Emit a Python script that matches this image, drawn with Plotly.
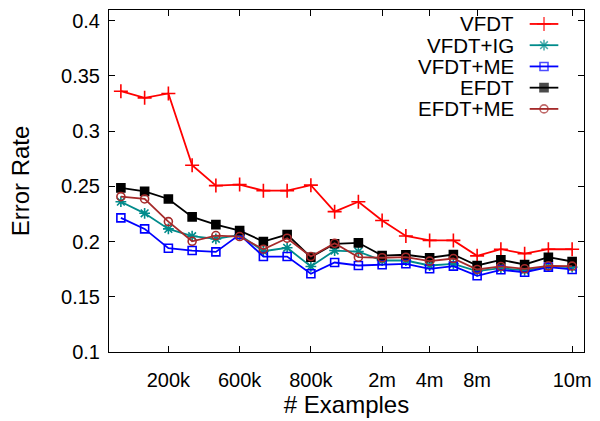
import plotly.graph_objects as go

x_index = list(range(1, 21))
tick_positions = [3, 6, 9, 12, 14, 16, 20]
tick_labels = ["200k", "600k", "800k", "2m", "4m", "8m", "10m"]

vfdt = [0.336, 0.330, 0.334, 0.269, 0.2506, 0.2515, 0.246, 0.246, 0.251, 0.227,
        0.236, 0.219, 0.205, 0.201, 0.201, 0.187, 0.193, 0.189, 0.193, 0.193]
vfdt_ig = [0.236, 0.2255, 0.2114, 0.2048, 0.2024, 0.206, 0.1912, 0.1943, 0.1774, 0.1918,
           0.1909, 0.1828, 0.1828, 0.1783, 0.1798, 0.1732, 0.1759, 0.1738, 0.1774, 0.1768]
vfdt_me = [0.2214, 0.2114, 0.1939, 0.1918, 0.1906, 0.2063, 0.1864, 0.1864, 0.1708, 0.181,
           0.1783, 0.1789, 0.1798, 0.1753, 0.1777, 0.169, 0.1744, 0.1722, 0.1768, 0.1747]
efdt = [0.2485, 0.2454, 0.2385, 0.2223, 0.2153, 0.2099, 0.2000, 0.2063, 0.1858, 0.1979,
        0.1988, 0.1873, 0.188, 0.1853, 0.1882, 0.1783, 0.1834, 0.1792, 0.1858, 0.1819]
efdt_me = [0.2406, 0.2385, 0.218, 0.2002, 0.2054, 0.2045, 0.193, 0.203, 0.1864, 0.1984,
           0.1858, 0.1853, 0.1858, 0.1822, 0.1846, 0.1747, 0.1774, 0.1753, 0.178, 0.1777]

series = [
    ("VFDT", vfdt, "#ff0000", "cross-thin-open", 10),
    ("VFDT+IG", vfdt_ig, "#008b8b", "asterisk-open", 9),
    ("VFDT+ME", vfdt_me, "#0000ff", "square-open", 8),
    ("EFDT", efdt, "#000000", "square", 8),
    ("EFDT+ME", efdt_me, "#a52a2a", "circle-open", 8),
]

FONT = "Liberation Sans, Arial, sans-serif"
W, H = 600, 421
L, R, T, B = 109, 10, 9, 69

fig = go.Figure()
for name, ys, color, sym, size in series:
    fig.add_trace(go.Scatter(
        x=x_index, y=ys, mode="lines+markers", name=name,
        line=dict(color=color, width=1.8),
        marker=dict(symbol=sym, size=size, color=color,
                    line=dict(color=color, width=1.6)),
        showlegend=False, cliponaxis=False,
    ))

# manual gnuplot-style key (text right, sample on the right)
key_text_right = 521
key_x0, key_x1 = 535, 564
key_y0, key_dy = 23, 21.3
annotations = []
for i, (name, ys, color, sym, size) in enumerate(series):
    yy = key_y0 + i * key_dy
    fig.add_trace(go.Scatter(
        x=[key_x0, (key_x0 + key_x1) / 2, key_x1], y=[yy, yy, yy],
        mode="lines+markers", xaxis="x2", yaxis="y2",
        line=dict(color=color, width=1.8),
        marker=dict(symbol=sym, size=[0, size, 0], color=color,
                    line=dict(color=color, width=1.6)),
        showlegend=False, hoverinfo="skip",
    ))
    annotations.append(dict(
        x=key_text_right, y=yy, xref="x2", yref="y2", text=name,
        showarrow=False, xanchor="right", yanchor="middle",
        font=dict(family=FONT, size=20.5, color="black"),
    ))

fig.update_layout(
    width=W, height=H,
    margin=dict(l=L, r=R, t=T, b=B),
    paper_bgcolor="white", plot_bgcolor="white",
    font=dict(family=FONT, size=20, color="black"),
    showlegend=False,
    xaxis=dict(
        range=[0.5, 20.5], tickmode="array",
        tickvals=tick_positions, ticktext=tick_labels,
        ticks="inside", ticklen=6, tickcolor="black", tickwidth=1,
        showline=True, linecolor="black", linewidth=1, mirror="ticks",
        showgrid=False, zeroline=False, ticklabelstandoff=10,
        title=dict(text="# Examples", font=dict(size=24), standoff=3),
        tickfont=dict(size=20),
    ),
    yaxis=dict(
        range=[0.1, 0.4095], tickmode="linear", tick0=0.1, dtick=0.05,
        ticks="inside", ticklen=6, tickcolor="black", tickwidth=1,
        showline=True, linecolor="black", linewidth=1, mirror="ticks",
        showgrid=False, zeroline=False, ticklabelstandoff=4,
        title=dict(text="Error Rate", font=dict(size=24), standoff=24),
        tickfont=dict(size=20),
    ),
    xaxis2=dict(overlaying="x", range=[L, W - R], visible=False, fixedrange=True),
    yaxis2=dict(overlaying="y", range=[H - B, T], visible=False, fixedrange=True),
    annotations=annotations,
)

fig.write_html("out.html")
